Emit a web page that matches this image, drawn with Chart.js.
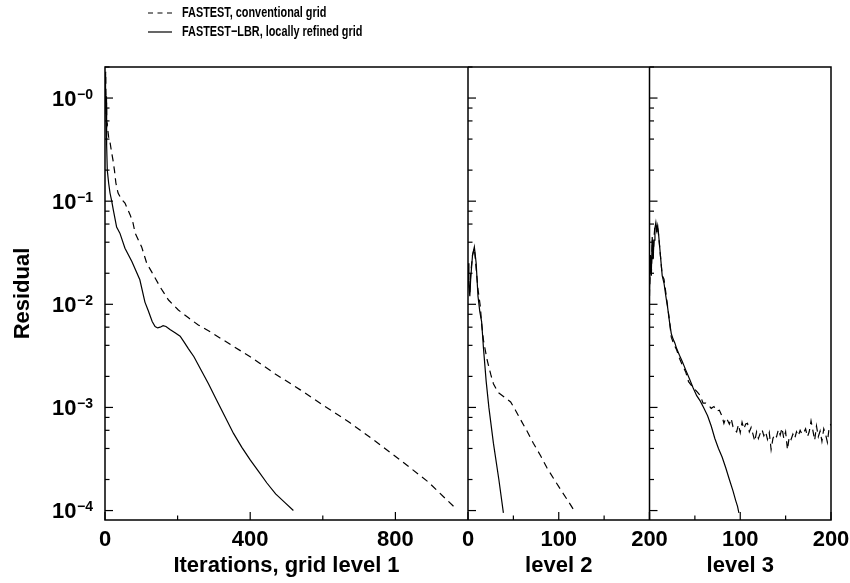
<!DOCTYPE html>
<html>
<head>
<meta charset="utf-8">
<title>Residual history</title>
<script src="https://cdn.jsdelivr.net/npm/chart.js@4/dist/chart.umd.min.js"></script>
<style>
  html, body { margin: 0; padding: 0; background: #fff; }
  #wrap { width: 850px; height: 583px; }
</style>
</head>
<body>
<div id="wrap"><canvas id="residualChart" width="850" height="583"></canvas></div>
<script>
// series names (legend)
const seriesNames = ['FASTEST, conventional grid', 'FASTEST\u2212LBR, locally refined grid'];
const panelTitles = ['Iterations, grid level 1', 'level 2', 'level 3'];

// grid level 1
const p1ConvX = [0, 1, 2, 3, 4, 5, 6, 8, 10, 14, 18, 22, 26, 30, 36, 45, 55, 69, 77, 83, 101, 115, 129, 152, 175, 202, 230, 257, 290, 326, 400, 470, 538, 605, 675, 745, 813, 890, 966];
const p1ConvY = [0.9, 1.6, 1.8, 0.7, 1.1, 0.5, 0.58, 0.48, 0.42, 0.37, 0.3, 0.25, 0.2, 0.15, 0.12, 0.105, 0.096, 0.074, 0.062, 0.049, 0.036, 0.025, 0.0205, 0.0147, 0.011, 0.0088, 0.0074, 0.0063, 0.0054, 0.0045, 0.0031, 0.0021, 0.00148, 0.00103, 0.00071, 0.00047, 0.00031, 0.00019, 0.000105];
const p1LbrX = [0, 1, 2, 3, 4, 5, 6.3, 10, 13.8, 18.5, 23, 32, 41, 55, 74, 96, 110, 119, 130, 138, 145, 152, 160, 168, 179, 193, 207, 218, 230, 245, 262, 285, 308, 330, 354, 377, 400, 423, 446, 470, 495, 519];
const p1LbrY = [1.0, 1.7, 1.2, 0.6, 0.9, 0.35, 0.2, 0.15, 0.12, 0.1, 0.082, 0.056, 0.049, 0.035, 0.026, 0.0173, 0.0105, 0.0087, 0.0068, 0.0061, 0.0059, 0.006, 0.0062, 0.0061, 0.0057, 0.0053, 0.0049, 0.0043, 0.0037, 0.0031, 0.0024, 0.0017, 0.00117, 0.00082, 0.00056, 0.00041, 0.00031, 0.00024, 0.000185, 0.000145, 0.00012, 0.0001];

// grid level 2
const p2ConvX = [0, 1, 2, 3, 5, 7, 9, 11, 13.6, 15, 17, 21, 25, 28, 33, 38, 43, 47, 52, 58, 65, 72, 80, 87, 95, 102, 110, 117];
const p2ConvY = [0.022, 0.016, 0.013, 0.02, 0.03, 0.035, 0.022, 0.014, 0.0095, 0.0065, 0.0045, 0.0029, 0.0021, 0.0017, 0.0014, 0.0013, 0.0012, 0.00113, 0.00095, 0.00076, 0.00059, 0.00045, 0.00034, 0.00026, 0.0002, 0.00016, 0.000125, 0.0001];
const p2LbrX = [0, 1, 2, 3, 5, 7, 9, 11, 13, 15, 17, 20, 23, 28, 34, 39];
const p2LbrY = [0.025, 0.015, 0.012, 0.018, 0.03, 0.036, 0.025, 0.012, 0.0085, 0.0068, 0.0038, 0.0018, 0.001, 0.00045, 0.0002, 0.000095];

// grid level 3
const p3ConvX = [0, 1, 2, 3, 4, 5, 6, 7, 8, 9, 10, 12, 14, 16, 18, 20, 22, 24, 26, 28, 30, 33, 36, 40, 43, 47, 50, 53, 56, 59, 62, 65, 68, 71, 74, 77, 80, 82, 84, 86, 88, 90, 92, 94,
  96, 98, 100, 102, 104, 106, 108, 110, 112, 114, 116, 118, 120, 122, 124, 126, 128, 130, 132, 134, 136, 138, 140, 142, 144, 146, 148, 150, 152, 154,
  156, 158, 160, 162, 164, 166, 168, 170, 172, 174, 176, 178, 180, 182, 184, 186, 188, 190, 192, 194, 196, 198, 200];
const p3ConvY = [0.012, 0.028, 0.018, 0.042, 0.026, 0.045, 0.058, 0.06, 0.05, 0.055, 0.047, 0.03, 0.019, 0.0175, 0.013, 0.0095, 0.007, 0.0048, 0.0043, 0.0039, 0.0036, 0.003, 0.0026, 0.0022, 0.00178, 0.0016, 0.0015, 0.0014, 0.0013, 0.0011, 0.0011, 0.00105, 0.00098, 0.00102, 0.00092, 0.00094, 0.00082, 0.0007, 0.00079, 0.00075, 0.00069, 0.00078, 0.00065, 0.0006,
  0.00058, 0.00068, 0.00057, 0.00072, 0.00062, 0.00069, 0.0007, 0.00058, 0.00064, 0.00055, 0.00047, 0.00058, 0.0005, 0.00056, 0.00061, 0.00053, 0.00058, 0.00049, 0.00057, 0.00039, 0.0005, 0.00055, 0.00052, 0.00061, 0.00054, 0.00063, 0.0005, 0.00058, 0.00039, 0.00052,
  0.00049, 0.00055, 0.0005, 0.00058, 0.00053, 0.0006, 0.00055, 0.00057, 0.00062, 0.00052, 0.00058, 0.00074, 0.0006, 0.00048, 0.00066, 0.00052, 0.00059, 0.00047, 0.00062, 0.00055, 0.00046, 0.00064, 0.00069];
const p3LbrX = [0, 1, 2, 3, 4, 5, 6, 7, 8, 9, 10, 12, 14, 16, 18, 20, 22, 24, 26, 28, 30, 33, 36, 40, 44, 48, 52, 56, 60, 64, 68, 72, 76, 80, 84, 88, 92, 95, 97, 98.5];
const p3LbrY = [0.014, 0.03, 0.02, 0.045, 0.028, 0.042, 0.055, 0.062, 0.052, 0.058, 0.048, 0.03, 0.019, 0.016, 0.012, 0.0093, 0.0068, 0.0052, 0.0046, 0.0042, 0.0037, 0.0032, 0.0028, 0.0023, 0.0019, 0.00155, 0.0013, 0.00115, 0.00098, 0.00083, 0.00066, 0.0005, 0.0004, 0.00033, 0.00026, 0.0002, 0.000155, 0.000125, 0.00011, 0.000095];

// ticks
const p1Ticks = [0, 400, 800];
const p1Minor = [200, 600];
const p2Ticks = [0, 100, 200];
const p3Ticks = [100, 200];
const p23Minor = [50, 150];
const yDecades = [1, 0.1, 0.01, 0.001, 0.0001];
const yExponents = ['\u22120', '\u22121', '\u22122', '\u22123', '\u22124'];
const yMinorSteps = [2, 4, 6, 8];

const FONT = "'Liberation Sans', Arial, Helvetica, sans-serif";

document.addEventListener('DOMContentLoaded', () => {
    initChart();
});

function series(xs, ys) {
    return xs.map((x, i) => ({ x: x, y: ys[i] }));
}

function lineDataset(label, xs, ys, axis, dashed) {
    return {
        label: label,
        data: series(xs, ys),
        xAxisID: axis,
        yAxisID: 'y',
        borderColor: '#000',
        borderWidth: 1.2,
        borderDash: dashed ? [7, 5] : [],
        pointRadius: 0,
        fill: false,
        tension: 0
    };
}

function panelAxis(max, weight, tickVals, title) {
    return {
        type: 'linear',
        position: 'bottom',
        stack: 'panels',
        stackWeight: weight,
        min: 0,
        max: max,
        offset: false,
        grid: { display: false, drawTicks: false },
        border: { display: false },
        afterBuildTicks: s => { s.ticks = tickVals.map(v => ({ value: v })); },
        afterFit: s => {
            s.height = 63;
            // end labels may hang over the frame, like the original
            s.paddingLeft = 0;
            s.paddingRight = 0;
        },
        ticks: {
            autoSkip: false,
            maxRotation: 0,
            padding: 7,
            color: '#000',
            font: { family: FONT, size: 22, weight: 'bold' }
        },
        title: {
            display: true,
            text: title,
            color: '#000',
            font: { family: FONT, size: 22, weight: 'bold' },
            padding: { top: 0, bottom: 4 }
        }
    };
}

// frame, inward tick marks, y labels with exponents, legend
const decorations = {
    id: 'decorations',
    afterDraw(chart) {
        const { ctx, chartArea: a, scales } = chart;
        const y = scales.y;
        ctx.save();
        ctx.strokeStyle = '#000';
        ctx.fillStyle = '#000';
        ctx.lineWidth = 1.5;
        ctx.setLineDash([]);
        ctx.strokeRect(a.left, a.top, a.right - a.left, a.bottom - a.top);

        const panels = [
            { s: scales.x1, major: p1Ticks, minor: p1Minor },
            { s: scales.x2, major: p2Ticks, minor: p23Minor },
            { s: scales.x3, major: [0].concat(p3Ticks), minor: p23Minor }
        ];

        panels.forEach((p, i) => {
            const x0 = p.s.left;
            if (i > 0) {
                ctx.beginPath();
                ctx.moveTo(x0, a.top);
                ctx.lineTo(x0, a.bottom);
                ctx.stroke();
            }
            ctx.lineWidth = 1.2;
            // y ticks on the left edge of each panel
            yDecades.forEach(d => {
                const py = y.getPixelForValue(d);
                ctx.beginPath();
                ctx.moveTo(x0, py);
                ctx.lineTo(x0 + 8, py);
                ctx.stroke();
                yMinorSteps.forEach(m => {
                    const v = d * m;
                    if (v < y.min || v > y.max) return;
                    const pm = y.getPixelForValue(v);
                    ctx.beginPath();
                    ctx.moveTo(x0, pm);
                    ctx.lineTo(x0 + 4.5, pm);
                    ctx.stroke();
                });
            });
            // x ticks along the bottom
            p.major.forEach(v => {
                const px = p.s.getPixelForValue(v);
                ctx.beginPath();
                ctx.moveTo(px, a.bottom);
                ctx.lineTo(px, a.bottom - 8);
                ctx.stroke();
            });
            p.minor.forEach(v => {
                const px = p.s.getPixelForValue(v);
                ctx.beginPath();
                ctx.moveTo(px, a.bottom);
                ctx.lineTo(px, a.bottom - 4.5);
                ctx.stroke();
            });
            ctx.lineWidth = 1.5;
        });

        // y tick labels: 10 with superscript exponent
        const right = a.left - 12;
        yDecades.forEach((d, i) => {
            const py = y.getPixelForValue(d);
            ctx.font = 'bold 14px ' + FONT;
            const sw = ctx.measureText(yExponents[i]).width;
            ctx.textAlign = 'left';
            ctx.textBaseline = 'alphabetic';
            ctx.fillText(yExponents[i], right - sw, py + 0.5);
            ctx.font = 'bold 22px ' + FONT;
            ctx.textAlign = 'right';
            ctx.fillText('10', right - sw - 0.5, py + 7.7);
        });

        // legend
        const rows = [13, 32];
        const dashes = [[5, 4.5], []];
        seriesNames.forEach((name, i) => {
            ctx.lineWidth = 1.2;
            ctx.setLineDash(dashes[i]);
            ctx.beginPath();
            ctx.moveTo(148, rows[i]);
            ctx.lineTo(172, rows[i]);
            ctx.stroke();
            ctx.setLineDash([]);
            ctx.save();
            ctx.translate(182, rows[i]);
            ctx.scale(0.75, 1);
            ctx.font = 'bold 14.5px ' + FONT;
            ctx.textAlign = 'left';
            ctx.textBaseline = 'middle';
            ctx.fillText(name, 0, 0);
            ctx.restore();
        });
        ctx.restore();
    }
};

function initChart() {
    const chart = document.getElementById('residualChart')?.getContext('2d');
    if (!chart) return;

    new Chart(chart, {
        type: 'line',
        data: {
            datasets: [
                lineDataset(seriesNames[0], p1ConvX, p1ConvY, 'x1', true),
                lineDataset(seriesNames[1], p1LbrX, p1LbrY, 'x1', false),
                lineDataset(seriesNames[0], p2ConvX, p2ConvY, 'x2', true),
                lineDataset(seriesNames[1], p2LbrX, p2LbrY, 'x2', false),
                lineDataset(seriesNames[0], p3ConvX, p3ConvY, 'x3', true),
                lineDataset(seriesNames[1], p3LbrX, p3LbrY, 'x3', false)
            ]
        },
        options: {
            responsive: false,
            animation: false,
            layout: { padding: { top: 67, right: 19, left: 0, bottom: 0 } },
            plugins: {
                legend: { display: false },
                tooltip: { enabled: false }
            },
            scales: {
                x1: panelAxis(1000, 2, p1Ticks, panelTitles[0]),
                x2: panelAxis(200, 1, p2Ticks, panelTitles[1]),
                x3: panelAxis(200, 1, p3Ticks, panelTitles[2]),
                y: {
                    type: 'logarithmic',
                    position: 'left',
                    min: 8.1e-5,
                    max: 2.0,
                    grid: { display: false, drawTicks: false },
                    border: { display: false },
                    ticks: { display: false },
                    afterFit: s => { s.width = 105; },
                    title: {
                        display: true,
                        text: 'Residual',
                        color: '#000',
                        font: { family: FONT, size: 22, weight: 'bold' },
                        padding: { top: 10, bottom: 0 }
                    }
                }
            }
        },
        plugins: [decorations]
    });
}
</script>
</body>
</html>
